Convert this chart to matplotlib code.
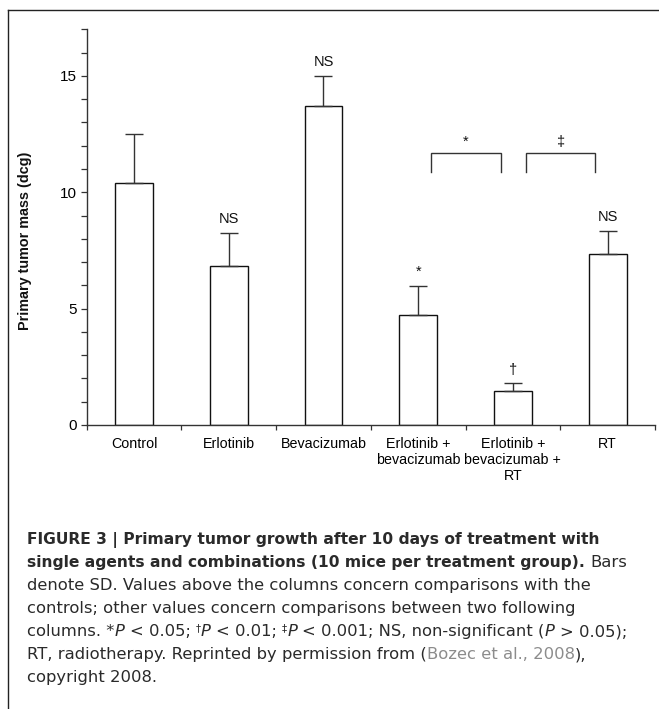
"""
plot.py — Primary tumor mass per treatment group, with figure caption
Stack: Matplotlib · NumPy
"""

import numpy as np
import matplotlib
matplotlib.use("Agg")
import matplotlib.pyplot as plt
from matplotlib.lines import Line2D
from matplotlib.ticker import MultipleLocator


# ── 1. Data ────────────────────────────────────────────────────────────────────

groups = [
    "Control",
    "Erlotinib",
    "Bevacizumab",
    "Erlotinib +\nbevacizumab",
    "Erlotinib +\nbevacizumab +\nRT",
    "RT",
]
tumor_mass = [10.40, 6.83, 13.72, 4.71, 1.45, 7.35]   # dcg
tumor_sd   = [2.11, 1.43, 1.29, 1.28, 0.34, 1.00]
vs_control = ["", "NS", "NS", "*", "†", "NS"]
pair_tests = [(3, 4, "*"), (4, 5, "‡")]                 # (left group, right group, mark)

y_label = "Primary tumor mass (dcg)"

caption = [
    [("FIGURE 3 | Primary tumor growth after 10 days of treatment with", "b")],
    [("single agents and combinations (10 mice per treatment group).", "b"), (" Bars", "n")],
    [("denote SD. Values above the columns concern comparisons with the", "n")],
    [("controls; other values concern comparisons between two following", "n")],
    [("columns. *", "n"), ("P", "i"), (" < 0.05; ", "n"), ("†", "sup"), ("P", "i"),
     (" < 0.01; ", "n"), ("‡", "sup"), ("P", "i"),
     (" < 0.001; NS, non-significant (", "n"), ("P", "i"), (" > 0.05);", "n")],
    [("RT, radiotherapy. Reprinted by permission from (", "n"),
     ("Bozec et al., 2008", "ref"), ("),", "n")],
    [("copyright 2008.", "n")],
]


# ── 2. Layout ──────────────────────────────────────────────────────────────────

W, H = 659, 709
AX_L, AX_R, AX_B, AX_T = 86.7, 655.0, 425.0, 29.3      # pixels

INK = "#2a2a2a"
CAP_X, CAP_Y0, CAP_DY = 27, 544.5, 22.9

CAPTION_STYLES = {
    "n":   dict(family="DejaVu Sans", fontsize=11.75, color=INK),
    "b":   dict(family="DejaVu Sans", fontsize=11.15, color=INK, fontweight="bold"),
    "i":   dict(family="DejaVu Sans", fontsize=11.75, color=INK, style="italic"),
    "sup": dict(family="DejaVu Sans", fontsize=7.5, color=INK, dy=5),
    "ref": dict(family="DejaVu Sans", fontsize=11.75, color="#8c8c8c"),
}

plt.rcParams["font.family"] = ["Liberation Sans", "DejaVu Sans"]
plt.rcParams["text.color"] = "#111111"


# ── 3. Helpers ─────────────────────────────────────────────────────────────────

def text_width(fig, renderer, s, **kw):
    t = fig.text(0, 0, s, **kw)
    w = t.get_window_extent(renderer).width
    t.remove()
    return w


def draw_caption_line(fig, renderer, x, y, runs):
    for text, style in runs:
        kw  = dict(CAPTION_STYLES[style])
        dy  = kw.pop("dy", 0)
        sp  = text_width(fig, renderer, "x x", **kw) - text_width(fig, renderer, "xx", **kw)
        lead  = len(text) - len(text.lstrip(" "))
        trail = len(text) - len(text.rstrip(" "))
        x += lead * sp
        t = fig.text(x / W, 1 - (y - dy) / H, text.strip(" "),
                     ha="left", va="baseline", **kw)
        x += t.get_window_extent(renderer).width + trail * sp


# ── 4. Chart ───────────────────────────────────────────────────────────────────

fig = plt.figure(figsize=(W / 100, H / 100), dpi=100)
ax  = fig.add_axes([AX_L / W, 1 - AX_B / H, (AX_R - AX_L) / W, (AX_B - AX_T) / H])

x = np.arange(len(groups))
ax.bar(x, tumor_mass, width=0.40, color="white", edgecolor="#111111",
       linewidth=1.0, zorder=2)
ax.errorbar(x, tumor_mass, yerr=[np.zeros(len(x)), tumor_sd], fmt="none",
            ecolor="#333333", elinewidth=1.0, capsize=6.8, capthick=1.0, zorder=3)

for i, mark in enumerate(vs_control):
    if mark:
        ax.text(x[i], tumor_mass[i] + tumor_sd[i] + 0.4, mark,
                ha="center", va="baseline", fontsize=10.5)

for a, b, mark in pair_tests:
    xa, xb = a + 0.14, b - 0.13
    ax.plot([xa, xa, xb, xb], [10.89, 11.68, 11.68, 10.89],
            color="#333333", lw=1.0, solid_joinstyle="miter")
    ax.text((a + b) / 2, 12.0, mark, ha="center", va="baseline", fontsize=10.5)

ax.set_xlim(-0.5, len(groups) - 0.5)
ax.set_ylim(0, 17)

ax.yaxis.set_major_locator(MultipleLocator(5))
ax.yaxis.set_minor_locator(MultipleLocator(1))
ax.tick_params(axis="y", which="both", direction="out", length=4.3, width=0.9,
               color="#333333", labelsize=11, pad=2.7)

ax.set_xticks(x)
ax.set_xticklabels(groups)
ax.set_xticks(np.arange(-0.5, len(groups), 1), minor=True)
ax.tick_params(axis="x", which="major", length=0, labelsize=10.3, pad=8.5)
ax.tick_params(axis="x", which="minor", direction="out", length=3.8, width=0.9,
               color="#333333")

for side in ("top", "right"):
    ax.spines[side].set_visible(False)
for side in ("left", "bottom"):
    ax.spines[side].set_color("#333333")
    ax.spines[side].set_linewidth(1.0)

fig.text(25 / W, 1 - 241 / H, y_label, rotation=90, ha="center", va="center",
         fontsize=10.4, fontweight="bold")


# ── 5. Frame + Caption ─────────────────────────────────────────────────────────

fig.add_artist(Line2D([8 / W, 8 / W], [0, 1 - 10 / H], transform=fig.transFigure,
                      color="#222222", lw=1.0))
fig.add_artist(Line2D([8 / W, 1], [1 - 10 / H, 1 - 10 / H], transform=fig.transFigure,
                      color="#222222", lw=1.0))

renderer = fig.canvas.get_renderer()
for k, runs in enumerate(caption):
    draw_caption_line(fig, renderer, CAP_X, CAP_Y0 + k * CAP_DY, runs)

fig.savefig("out.png", dpi=100)
